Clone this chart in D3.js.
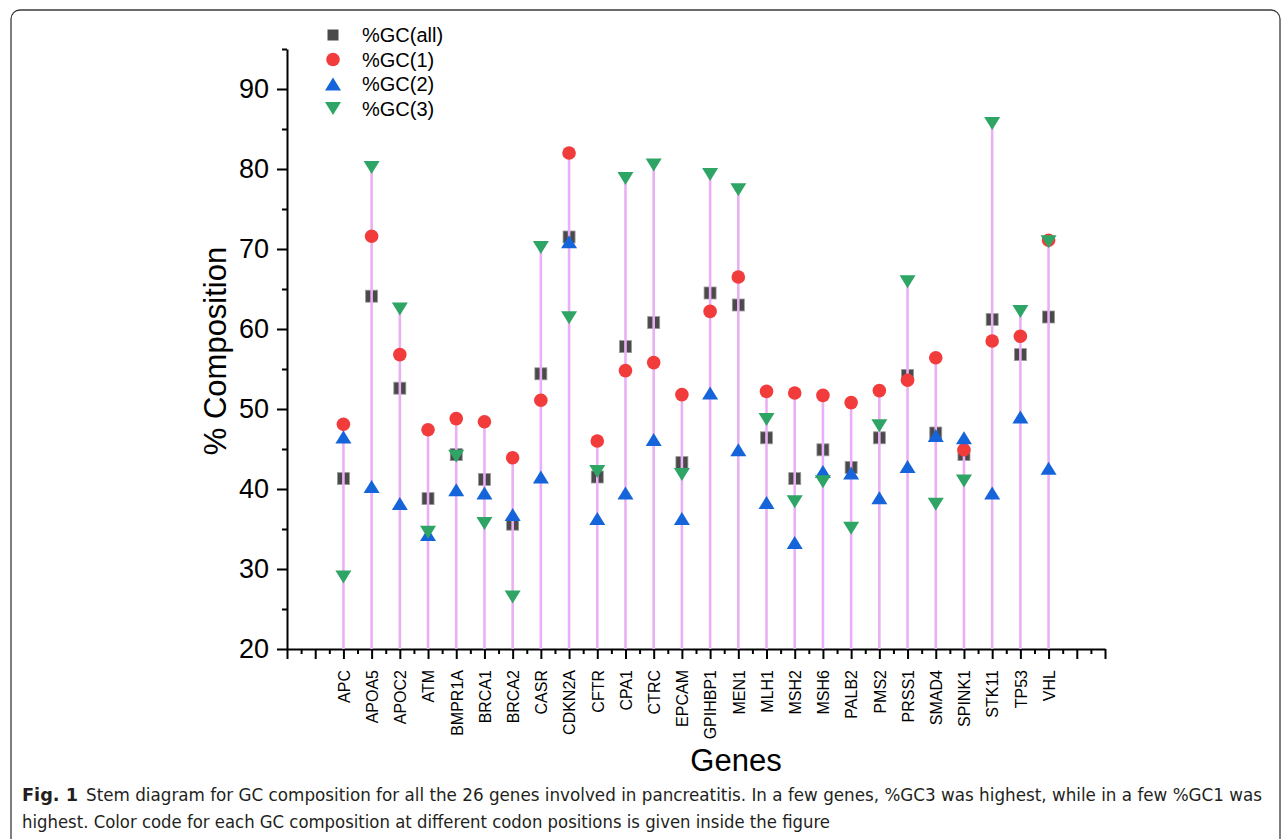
<!DOCTYPE html>
<html>
<head>
<meta charset="utf-8">
<script src="https://cdn.jsdelivr.net/npm/d3@7"></script>
<style>
  html, body { margin: 0; padding: 0; background: #ffffff; }
  svg { display: block; }
</style>
</head>
<body>
<svg id="chart" width="1287" height="839"></svg>
<script>
// Genes and GC composition (%) at each codon position
const genes = ["APC","APOA5","APOC2","ATM","BMPR1A","BRCA1","BRCA2","CASR","CDKN2A","CFTR",
  "CPA1","CTRC","EPCAM","GPIHBP1","MEN1","MLH1","MSH2","MSH6","PALB2","PMS2",
  "PRSS1","SMAD4","SPINK1","STK11","TP53","VHL"];
const gcAll = [41.3, 64.1, 52.6, 38.8, 44.3, 41.2, 35.6, 54.4, 71.5, 41.5,
  57.8, 60.8, 43.3, 64.5, 63.0, 46.4, 41.3, 44.9, 42.7, 46.4,
  54.2, 47.0, 44.3, 61.2, 56.8, 61.5];
const gc1 = [48.1, 71.6, 56.8, 47.4, 48.8, 48.4, 43.9, 51.1, 82.0, 46.0,
  54.8, 55.8, 51.8, 62.2, 66.5, 52.2, 52.0, 51.7, 50.8, 52.3,
  53.6, 56.4, 44.9, 58.5, 59.1, 71.1];
const gc2 = [46.5, 40.3, 38.2, 34.3, 39.9, 39.5, 36.8, 41.5, 70.9, 36.3,
  39.5, 46.2, 36.3, 52.0, 44.9, 38.3, 33.3, 42.2, 42.0, 38.9,
  42.8, 46.7, 46.4, 39.5, 49.0, 42.6];
const gc3 = [29.0, 80.2, 62.5, 34.6, 44.1, 35.7, 26.5, 70.2, 61.4, 42.2,
  78.8, 80.5, 41.8, 79.3, 77.4, 48.7, 38.4, 40.9, 35.1, 47.9,
  65.9, 38.1, 41.0, 85.7, 62.2, 70.9];
const yMajorTicks = [20, 30, 40, 50, 60, 70, 80, 90];
const seriesNames = ["%GC(all)", "%GC(1)", "%GC(2)", "%GC(3)"];

const svg = d3.select("#chart");
const FONT = "'Liberation Sans', Arial, Helvetica, sans-serif";

// figure frame
svg.append("rect").attr("x", 11).attr("y", 10).attr("width", 1269).attr("height", 840)
  .attr("rx", 9).attr("fill", "#ffffff").attr("stroke", "#3a3a3a").attr("stroke-width", 1.3);

// scales: genes sit at positions 2..27 of a 0..29 axis
const x = d3.scaleLinear().domain([0, 29]).range([287, 1105]);
const y = d3.scaleLinear().domain([20, 95]).range([649, 49]);
const xPos = i => x(i + 2);

const plot = svg.append("g");

// y axis: major + minor ticks
const yAxis = plot.append("g").attr("transform", `translate(${x(0)},0)`)
  .call(d3.axisLeft(y).tickValues(yMajorTicks).tickSize(10).tickPadding(8).tickSizeOuter(0));
plot.append("g").attr("transform", `translate(${x(0)},0)`)
  .call(d3.axisLeft(y).tickValues(d3.range(25, 96, 10)).tickSize(5).tickFormat("").tickSizeOuter(0))
  .select(".domain").remove();
yAxis.selectAll("text").attr("font-family", FONT).attr("font-size", 27).attr("fill", "#000");

// x axis: major ticks at each integer, minor at halves
const xAxis = plot.append("g").attr("transform", `translate(0,${y(20)})`)
  .call(d3.axisBottom(x).tickValues(d3.range(0, 30)).tickSize(10).tickSizeOuter(0)
    .tickFormat(d => (d >= 2 && d <= 27) ? genes[d - 2] : ""));
plot.append("g").attr("transform", `translate(0,${y(20)})`)
  .call(d3.axisBottom(x).tickValues(d3.range(0.5, 29, 1)).tickSize(5).tickFormat("").tickSizeOuter(0))
  .select(".domain").remove();
xAxis.selectAll("text")
  .attr("font-family", FONT).attr("font-size", 16).attr("fill", "#000")
  .attr("transform", "rotate(-90)")
  .attr("x", -21).attr("y", 0).attr("dy", "0.36em")
  .attr("text-anchor", "end");

plot.selectAll(".domain, .tick line").attr("stroke", "#000").attr("stroke-width", 2);

// stems and markers
const sq = 12;
const triW = 16, triH = 13;
const upTri = `M0,${-triH/2}L${triW/2},${triH/2}L${-triW/2},${triH/2}Z`;
const downTri = `M0,${triH/2}L${triW/2},${-triH/2}L${-triW/2},${-triH/2}Z`;

const marks = plot.append("g");
marks.selectAll("rect.all").data(gcAll).join("rect").attr("class", "all")
  .attr("x", (d, i) => xPos(i) - sq / 2).attr("y", d => y(d) - sq / 2)
  .attr("width", sq).attr("height", sq)
  .attr("fill", "#4a4a4a").attr("stroke", "#9a9a9a").attr("stroke-width", 0.8);

marks.selectAll("line.stem").data(genes).join("line").attr("class", "stem")
  .attr("x1", (d, i) => xPos(i)).attr("x2", (d, i) => xPos(i))
  .attr("y1", y(20))
  .attr("y2", (d, i) => y(Math.max(gcAll[i], gc1[i], gc2[i], gc3[i])))
  .attr("stroke", "#eab0f6").attr("stroke-width", 2.6);

marks.selectAll("circle.gc1").data(gc1).join("circle").attr("class", "gc1")
  .attr("cx", (d, i) => xPos(i)).attr("cy", d => y(d)).attr("r", 6.8)
  .attr("fill", "#f23c3c");

marks.selectAll("path.gc2").data(gc2).join("path").attr("class", "gc2")
  .attr("transform", (d, i) => `translate(${xPos(i)},${y(d)})`)
  .attr("d", upTri).attr("fill", "#1664d9");

marks.selectAll("path.gc3").data(gc3).join("path").attr("class", "gc3")
  .attr("transform", (d, i) => `translate(${xPos(i)},${y(d)})`)
  .attr("d", downTri).attr("fill", "#2ea564");

// axis titles
svg.append("text").attr("transform", "translate(226,351) rotate(-90)")
  .attr("text-anchor", "middle").attr("font-family", FONT).attr("font-size", 31)
  .attr("fill", "#000").text("% Composition");
svg.append("text").attr("x", 736).attr("y", 771)
  .attr("text-anchor", "middle").attr("font-family", FONT).attr("font-size", 31)
  .attr("fill", "#000").text("Genes");

// legend
const legend = svg.append("g").attr("transform", "translate(333,35)");
const rowH = 24.5;
const lg = legend.selectAll("g").data(seriesNames).join("g")
  .attr("transform", (d, i) => `translate(0,${i * rowH})`);
lg.each(function (d, i) {
  const g = d3.select(this);
  if (i === 0) g.append("rect").attr("x", -5.5).attr("y", -5.5).attr("width", 11).attr("height", 11).attr("fill", "#4a4a4a");
  if (i === 1) g.append("circle").attr("r", 6.8).attr("fill", "#f23c3c");
  if (i === 2) g.append("path").attr("d", upTri).attr("fill", "#1664d9");
  if (i === 3) g.append("path").attr("d", downTri).attr("fill", "#2ea564");
});
lg.append("text").attr("x", 29).attr("dy", "0.36em")
  .attr("font-family", FONT).attr("font-size", 20).attr("fill", "#000")
  .text(d => d);

// caption
const CAP = "'Liberation Sans Narrow', 'DejaVu Sans Condensed', 'Open Sans', sans-serif";
svg.append("text").attr("x", 22).attr("y", 801)
  .attr("font-family", CAP).attr("font-size", 18).attr("font-weight", "bold").attr("fill", "#231f20")
  .attr("textLength", 56).attr("lengthAdjust", "spacingAndGlyphs").text("Fig. 1");
svg.append("text").attr("x", 86).attr("y", 801)
  .attr("font-family", CAP).attr("font-size", 18).attr("fill", "#231f20")
  .attr("textLength", 1176).attr("lengthAdjust", "spacingAndGlyphs")
  .text("Stem diagram for GC composition for all the 26 genes involved in pancreatitis. In a few genes, %GC3 was highest, while in a few %GC1 was");
svg.append("text").attr("x", 22).attr("y", 828)
  .attr("font-family", CAP).attr("font-size", 18).attr("fill", "#231f20")
  .attr("textLength", 808).attr("lengthAdjust", "spacingAndGlyphs")
  .text("highest. Color code for each GC composition at different codon positions is given inside the figure");
</script>
</body>
</html>
